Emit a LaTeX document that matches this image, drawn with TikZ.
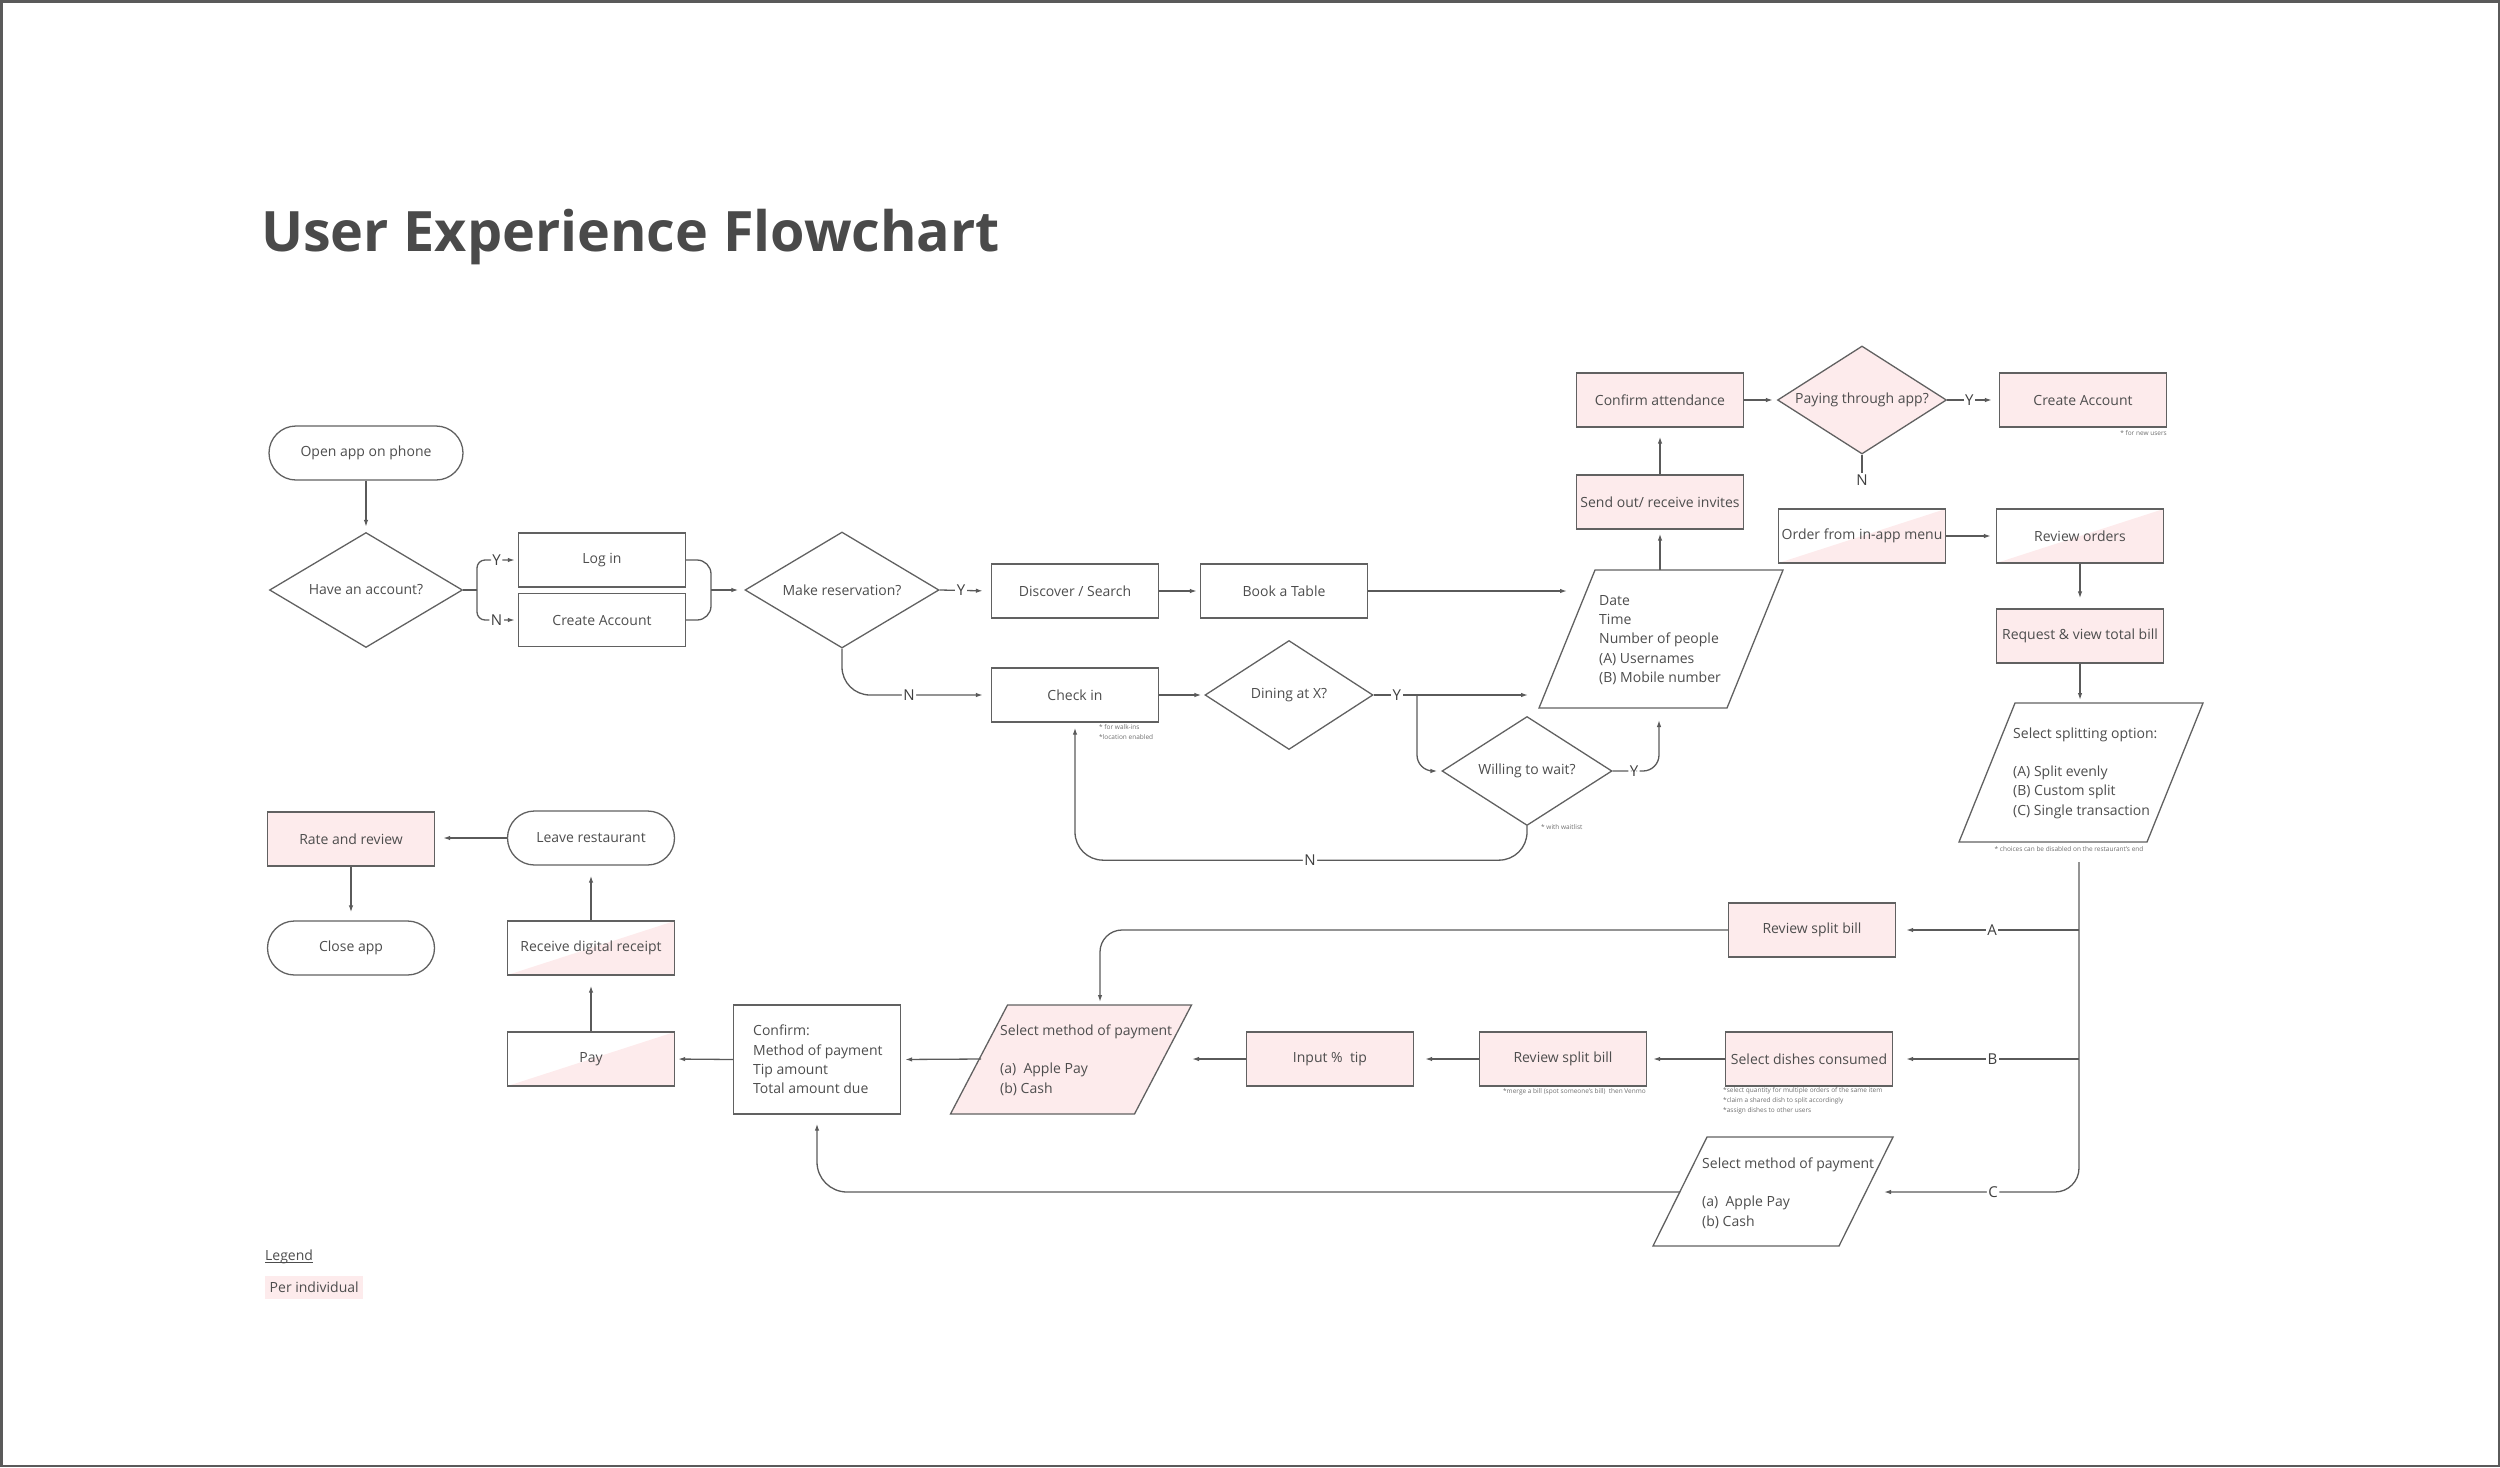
\documentclass[tikz,border=0pt]{standalone}
\usepackage{fontspec}
\setmainfont{Open Sans}
\usetikzlibrary{shapes.geometric,arrows.meta}
\definecolor{linec}{HTML}{5A5A5A}
\definecolor{boxc}{HTML}{616161}
\definecolor{txtc}{HTML}{4D4D4D}
\definecolor{lblc}{HTML}{3F3F3F}
\definecolor{pinkc}{HTML}{FDEBEC}
\definecolor{notec}{HTML}{6E6E6E}
\definecolor{titlec}{HTML}{4A4A4A}
\newcommand{\slantbox}[7]{%
  \filldraw[draw=boxc, line width=1.3pt, fill=#7] (#2-#4/2+#6, #3-#5/2) -- (#2+#4/2+#6, #3-#5/2) -- (#2+#4/2-#6, #3+#5/2) -- (#2-#4/2-#6, #3+#5/2) -- cycle;
  \coordinate (#1) at (#2,#3);}
\begin{document}
\begin{tikzpicture}[x=1pt,y=-1pt,
  every node/.style={text=txtc},
  box/.style={rectangle, draw=boxc, line width=1.3pt, minimum width=167pt, minimum height=54pt, inner sep=1pt, font=\fontsize{14}{19}\selectfont},
  pbox/.style={box, fill=pinkc},
  hbox/.style={box, path picture={\fill[pinkc] (path picture bounding box.south west) -- (path picture bounding box.north east) -- (path picture bounding box.south east) -- cycle;}},
  term/.style={box, rounded corners=27pt},
  dec/.style={diamond, draw=boxc, line width=1.3pt, aspect=1.6, inner sep=0pt, font=\fontsize{14}{19}\selectfont},
  ptext/.style={align=left, inner sep=0pt, font=\fontsize{14}{19.3}\selectfont},
  note/.style={inner sep=0pt, text=notec, font=\fontsize{6.5}{10}\selectfont},
  lbl/.style={fill=white, inner sep=1.5pt, text=lblc, font=\fontsize{15}{17}\selectfont},
  ln/.style={draw=linec, line width=1.3pt},
  arr/.style={ln, -{Latex[length=7pt,width=4.5pt]}, shorten >=6pt}
]
\useasboundingbox (0,0) rectangle (2500,1467);
\draw[draw=linec, line width=2.5pt] (1.25,1.25) rectangle (2498.75,1465.75);

\node[anchor=base west, inner sep=0pt, text=titlec, font=\fontsize{55.7}{60}\selectfont\bfseries] (title) at (261,251) {User Experience Flowchart};

% nodes
\node[term, minimum width=194pt] (open) at (366,453) {Open app on phone};
\node[dec, minimum width=193pt, minimum height=115pt] (hav) at (366,590) {Have an account?};
\node[box] (login) at (602,560) {Log in};
\node[box, minimum height=53pt] (cacc1) at (602,620) {Create Account};
\node[dec, minimum width=194pt, minimum height=116pt] (mres) at (842,590) {Make reservation?};
\node[box] (disc) at (1075,591) {Discover / Search};
\node[box] (book) at (1284,591) {Book a Table};
\node[box] (chk) at (1075,695) {Check in};
\node[note, align=left, anchor=west] (nwalk) at (1099,732) {* for walk-ins\\*location enabled};
\node[dec, minimum width=168pt, minimum height=109pt] (dine) at (1289,695) {Dining at X?};
\node[dec, minimum width=170pt, minimum height=109pt] (wait) at (1527,771) {Willing to wait?};
\node[note, anchor=west] (nwait) at (1541,827) {* with waitlist};
\slantbox{datep}{1661}{639}{188}{138}{28}{white}
\node[ptext, anchor=west] (datet) at (1599,640) {Date\\Time\\Number of people\\(A) Usernames\\(B) Mobile number};
\node[pbox] (send) at (1660,502) {Send out/ receive invites};
\node[pbox] (conf) at (1660,400) {Confirm attendance};
\node[dec, fill=pinkc, minimum width=169pt, minimum height=108pt] (paying) at (1862,400) {Paying through app?};
\node[pbox] (cacc2) at (2083,400) {Create Account};
\node[note, anchor=east] (nnew) at (2167,433) {* for new users};
\node[lbl] (nlab) at (1862,480) {N};
\node[hbox, inner xsep=0pt] (order) at (1862,536) {Order from in-app menu};
\node[hbox] (revo) at (2080,536) {Review orders};
\node[pbox] (reqb) at (2080,636) {Request \& view total bill};
\slantbox{splitp}{2081}{772.5}{188}{139}{28}{white}
\node[ptext, anchor=west] (splitt) at (2013,773) {Select splitting option:\\[19.3pt](A) Split evenly\\(B) Custom split\\(C) Single transaction};
\node[note] (nchoice) at (2069,849) {* choices can be disabled on the restaurant's end};
\node[pbox] (rsa) at (1812,930) {Review split bill};
\node[pbox] (sdish) at (1809,1059) {Select dishes consumed};
\node[note, align=left, anchor=north west] (ndish) at (1723,1087) {*select quantity for multiple orders of the same item\\*claim a shared dish to split accordingly\\*assign dishes to other users};
\slantbox{payc}{1773}{1191.5}{186}{109}{27}{white}
\node[ptext, anchor=west] (payct) at (1702,1193) {Select method of payment\\[19.3pt](a)\ \ Apple Pay\\(b) Cash};
\node[pbox] (rsb) at (1563,1059) {Review split bill};
\node[note, anchor=east] (nmerge) at (1646,1092) {*merge a bill (spot someone's bill)\ \ then Venmo};
\node[pbox] (tip) at (1330,1059) {Input \%\ \ tip};
\slantbox{payp}{1071}{1059.5}{184}{109}{28.5}{pinkc}
\node[ptext, anchor=west] (paypt) at (1000,1060) {Select method of payment\\[19.3pt](a)\ \ Apple Pay\\(b) Cash};
\node[box, minimum height=109pt] (confb) at (817,1059.5) {};
\node[ptext, anchor=west] (confbt) at (753,1059.5) {Confirm:\\Method of payment\\Tip amount\\Total amount due};
\node[hbox] (pay) at (591,1059) {Pay};
\node[hbox] (rcpt) at (591,948) {Receive digital receipt};
\node[term] (leave) at (591,838) {Leave restaurant};
\node[pbox] (rate) at (351,839) {Rate and review};
\node[term] (close) at (351,948) {Close app};

% legend
\node[anchor=base west, inner sep=0pt, font=\fontsize{14}{17}\selectfont] (leg) at (265,1260) {Legend};
\draw[draw=txtc, line width=1.1pt] ([yshift=-2.5pt]leg.base west) -- ([yshift=-2.5pt]leg.base east);
\node[fill=pinkc, minimum width=98pt, minimum height=23pt, inner sep=0pt, anchor=west, font=\fontsize{14}{17}\selectfont] (perind) at (265,1287.5) {Per individual};

% connectors
\draw[arr, shorten >=5pt] (open.south) -- (hav.north);
\coordinate (j1) at (477,590);
\draw[ln] (hav.east) -- (j1);
\draw[arr, shorten >=3pt, rounded corners=8pt] (j1) |- node[lbl, pos=0.74]{Y} (login.west);
\draw[arr, shorten >=3pt, rounded corners=8pt] (j1) |- node[lbl, pos=0.74]{N} (cacc1.west);
\coordinate (j2) at (711,590);
\draw[ln, rounded corners=14pt] (login.east) -| (j2) |- (cacc1.east);
\draw[arr] (j2) -- (mres.west);
\draw[arr, shorten >=8pt] (mres.east) -- node[lbl, pos=0.42]{Y} (disc.west);
\draw[arr, shorten >=8pt, rounded corners=28pt] (mres.south) |- node[lbl, pos=0.725]{N} (chk.west);
\draw[arr, shorten >=3pt] (disc.east) -- (book.west);
\coordinate (datel) at (1567,591);
\draw[arr, shorten >=0pt] (book.east) -- (datel);
\draw[arr, shorten >=3pt] (chk.east) -- (dine.west);
\coordinate (datey) at (1528,695);
\draw[arr, shorten >=0pt] (dine.east) -- node[lbl, pos=0.15]{Y} (datey);
\coordinate (j3) at (1417,695);
\draw[arr, shorten >=4pt, rounded corners=16pt] (j3) |- (wait.west);
\coordinate (dateb) at (1659,720);
\draw[arr, shorten >=0pt, rounded corners=16pt] (wait.east) -| node[lbl, pos=0.23]{Y} (dateb);
\draw[arr, shorten >=5pt, rounded corners=28pt] (wait.south) -- ++(0,34) -| node[lbl, pos=0.24]{N} (chk.south);
\coordinate (datetop) at (1660,570);
\draw[arr, shorten >=4pt] (datetop) -- (send.south);
\draw[arr, shorten >=9pt] (send.north) -- (conf.south);
\draw[arr, shorten >=4pt] (conf.east) -- (paying.west);
\draw[arr, shorten >=7pt] (paying.east) -- node[lbl, pos=0.43]{Y} (cacc2.west);
\draw[ln] (paying.south) -- (nlab.north);
\draw[arr, shorten >=5pt] (order.east) -- (revo.west);
\draw[arr, shorten >=10pt] (revo.south) -- (reqb.north);
\coordinate (splittop) at (2080,703);
\draw[arr, shorten >=3pt] (reqb.south) -- (splittop);
\coordinate (splitb) at (2079,862);
\coordinate (paycr) at (1884,1192);
\draw[arr, shorten >=0pt, rounded corners=24pt] (splitb) |- node[lbl, pos=0.72]{C} (paycr);
\coordinate (ja) at (2079,930);
\draw[arr, shorten >=10pt] (ja) -- node[lbl, pos=0.475]{A} (rsa.east);
\coordinate (jb) at (2079,1059);
\draw[arr, shorten >=13pt] (jb) -- node[lbl, pos=0.465]{B} (sdish.east);
\coordinate (payptop) at (1100,1005);
\draw[arr, shorten >=3pt, rounded corners=22pt] (rsa.west) -| (payptop);
\draw[arr, shorten >=6pt] (sdish.west) -- (rsb.east);
\draw[arr, shorten >=11pt] (rsb.west) -- (tip.east);
\coordinate (paypr) at (1192,1059);
\draw[arr, shorten >=0pt] (tip.west) -- (paypr);
\coordinate (paypl) at (981,1059);
\draw[arr, shorten >=4pt] (paypl) -- (confb.east);
\coordinate (paycl) at (1680,1192);
\draw[arr, shorten >=9pt, rounded corners=30pt] (paycl) -| (confb.south);
\draw[arr, shorten >=3pt] (confb.west) -- (pay.east);
\draw[arr, shorten >=10pt] (pay.north) -- (rcpt.south);
\draw[arr, shorten >=10pt] (rcpt.north) -- (leave.south);
\draw[arr, shorten >=8pt] (leave.west) -- (leave.west -| rate.east);
\draw[arr, shorten >=8pt] (rate.south) -- (close.north);
\end{tikzpicture}
\end{document}
